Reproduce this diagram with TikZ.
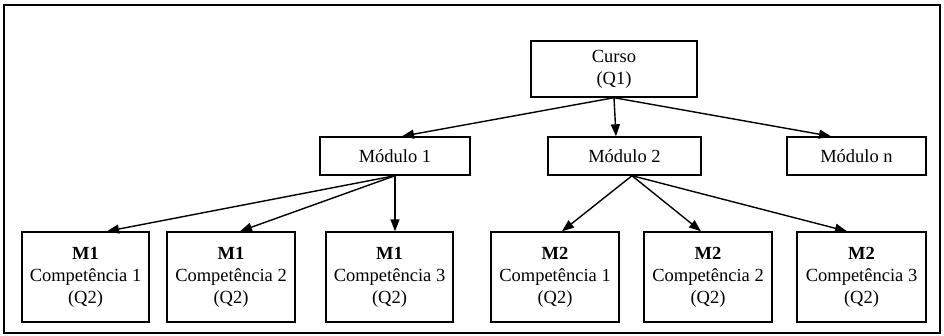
\documentclass[tikz,border=0pt]{standalone}
\usepackage{fontspec}
\setmainfont{Liberation Serif}
\usepackage{tikz}
\usetikzlibrary{arrows.meta}

\tikzset{
  unitbox/.style={draw, line width=1.4pt, align=center, inner sep=0pt,
    font=\fontsize{18.5}{22}\selectfont},
  flow/.style={line width=1.4pt, -{Triangle[length=12pt,width=9pt]}}
}

\begin{document}
\begin{tikzpicture}[x=1pt,y=1pt]
\useasboundingbox (0,0) rectangle (944,335);
\draw[line width=1.4pt] (4,2) rectangle (940,330);
% topo
\node[unitbox, minimum width=166pt, minimum height=56pt] (curso) at (614,266) {Curso\\(Q1)};
% modulos
\node[unitbox, minimum width=150pt, minimum height=38pt] (mod1) at (395,179) {Módulo 1};
\node[unitbox, minimum width=153pt, minimum height=38pt] (mod2) at (624.5,179) {Módulo 2};
\node[unitbox, minimum width=139pt, minimum height=38pt] (modn) at (856.5,179) {Módulo n};
% competencias
\node[unitbox, minimum width=127pt, minimum height=90pt] (m1c1) at (85.5,58) {\textbf{M1}\\Competência 1\\(Q2)};
\node[unitbox, minimum width=128pt, minimum height=90pt] (m1c2) at (231,58) {\textbf{M1}\\Competência 2\\(Q2)};
\node[unitbox, minimum width=127pt, minimum height=90pt] (m1c3) at (389.5,58) {\textbf{M1}\\Competência 3\\(Q2)};
\node[unitbox, minimum width=128pt, minimum height=90pt] (m2c1) at (555,58) {\textbf{M2}\\Competência 1\\(Q2)};
\node[unitbox, minimum width=128pt, minimum height=90pt] (m2c2) at (708,58) {\textbf{M2}\\Competência 2\\(Q2)};
\node[unitbox, minimum width=129pt, minimum height=90pt] (m2c3) at (861.5,58) {\textbf{M2}\\Competência 3\\(Q2)};
% ligacoes
\draw[flow] (curso.south) -- ([xshift=7pt]mod1.north);
\draw[flow] (curso.south) -- ([xshift=-8.5pt]mod2.north);
\draw[flow] (curso.south) -- ([xshift=-25.5pt]modn.north);
\draw[flow] (mod1.south) -- ([xshift=21.5pt]m1c1.north);
\draw[flow] (mod1.south) -- ([xshift=9pt]m1c2.north);
\draw[flow] (mod1.south) -- ([xshift=5.5pt]m1c3.north);
\draw[flow] ([xshift=7.5pt]mod2.south) -- ([xshift=7pt]m2c1.north);
\draw[flow] ([xshift=7.5pt]mod2.south) -- ([xshift=-7pt]m2c2.north);
\draw[flow] ([xshift=7.5pt]mod2.south) -- ([xshift=-14.5pt]m2c3.north);
\end{tikzpicture}
\end{document}
